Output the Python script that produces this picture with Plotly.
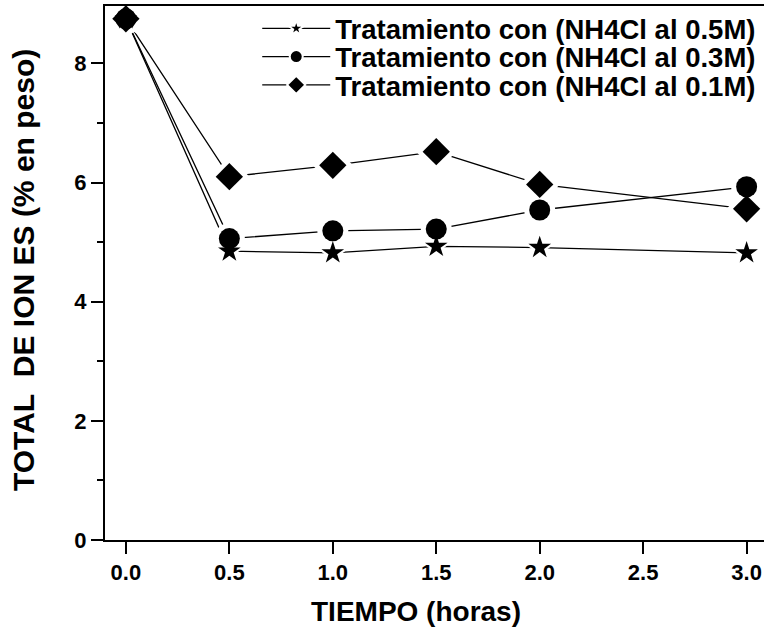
import plotly.graph_objects as go

tiempo = [0.0, 0.5, 1.0, 1.5, 2.0, 3.0]
serie_05M = [8.75, 4.85, 4.82, 4.93, 4.91, 4.82]
serie_03M = [8.75, 5.06, 5.19, 5.22, 5.54, 5.93]
serie_01M = [8.75, 6.10, 6.29, 6.52, 5.97, 5.56]
nombres = ["Tratamiento con (NH4Cl al 0.5M)",
           "Tratamiento con (NH4Cl al 0.3M)",
           "Tratamiento con (NH4Cl al 0.1M)"]
simbolos = ["star", "circle", "diamond"]
tamanos = [17, 21, 21]
hueco = 10
tamanos_leyenda = [12, 13, 14]
leyenda_y = [0.958, 0.905, 0.852]

FONT = "Liberation Sans, Arial, sans-serif"

fig = go.Figure()
datos = [serie_05M, serie_03M, serie_01M]
ids_leyenda = ["legend", "legend2", "legend3"]
# lines
for i in range(3):
    fig.add_trace(go.Scatter(x=tiempo, y=datos[i], mode="lines", showlegend=False,
                             line=dict(color="black", width=1.3), hoverinfo="skip"))
# white halos (gap between line and marker)
for i in range(3):
    fig.add_trace(go.Scatter(x=tiempo, y=datos[i], mode="markers", showlegend=False,
                             marker=dict(symbol=simbolos[i], size=tamanos[i] + hueco,
                                         color="white", line=dict(width=0)),
                             hoverinfo="skip"))
# black markers
for i in range(3):
    fig.add_trace(go.Scatter(x=tiempo, y=datos[i], mode="markers", showlegend=False,
                             name=nombres[i],
                             marker=dict(symbol=simbolos[i], size=tamanos[i],
                                         color="black", line=dict(width=0))))
# legend entries
for i in range(3):
    fig.add_trace(go.Scatter(
        x=[None], y=[None], mode="lines+markers", name=nombres[i],
        legend=ids_leyenda[i],
        line=dict(color="black", width=1.3),
        marker=dict(symbol=simbolos[i], size=tamanos_leyenda[i], color="black",
                    line=dict(color="white", width=2)),
    ))

def leyenda(y):
    return dict(x=0.231, y=y, xanchor="left", yanchor="middle",
                bgcolor="rgba(0,0,0,0)", itemwidth=68,
                font=dict(family=FONT, size=27.5, weight="bold"),
                itemsizing="trace")

fig.update_layout(
    width=764, height=630,
    margin=dict(l=105, r=0, t=6, b=90),
    plot_bgcolor="white", paper_bgcolor="white",
    font=dict(family=FONT, color="black"),
    legend=leyenda(leyenda_y[0]),
    legend2=leyenda(leyenda_y[1]),
    legend3=leyenda(leyenda_y[2]),
    xaxis=dict(range=[-0.101, 3.084], tickvals=[0, 0.5, 1.0, 1.5, 2.0, 2.5, 3.0],
               ticktext=["0.0", "0.5", "1.0", "1.5", "2.0", "2.5", "3.0"],
               ticks="outside", ticklen=12, tickwidth=2, tickcolor="black",
               showline=True, linewidth=2, linecolor="black", mirror=True,
               showgrid=False, zeroline=False, automargin=False,
               tickfont=dict(family=FONT, size=22, weight="bold")),
    yaxis=dict(range=[0, 8.965], tickvals=[0, 2, 4, 6, 8],
               ticks="outside", ticklen=12, tickwidth=2, tickcolor="black",
               minor=dict(tickvals=[1, 3, 5, 7], ticks="outside", ticklen=6,
                          tickwidth=2, tickcolor="black"),
               showline=True, linewidth=2, linecolor="black",
               showgrid=False, zeroline=False, automargin=False,
               tickfont=dict(family=FONT, size=22, weight="bold")),
    annotations=[
        dict(text="TIEMPO (horas)", xref="paper", yref="paper",
             x=0.472, y=-0.133, xanchor="center", yanchor="middle",
             showarrow=False, font=dict(family=FONT, size=28, weight="bold")),
        dict(text="TOTAL\u00a0 DE ION ES (% en peso)", xref="paper", yref="paper",
             x=-0.1244, y=0.5056, xanchor="center", yanchor="middle", textangle=-90,
             showarrow=False, font=dict(family=FONT, size=30, weight="bold")),
    ],
)

fig.write_html("out.html", config={"displayModeBar": False},
               post_script="document.body.style.margin='0';")
